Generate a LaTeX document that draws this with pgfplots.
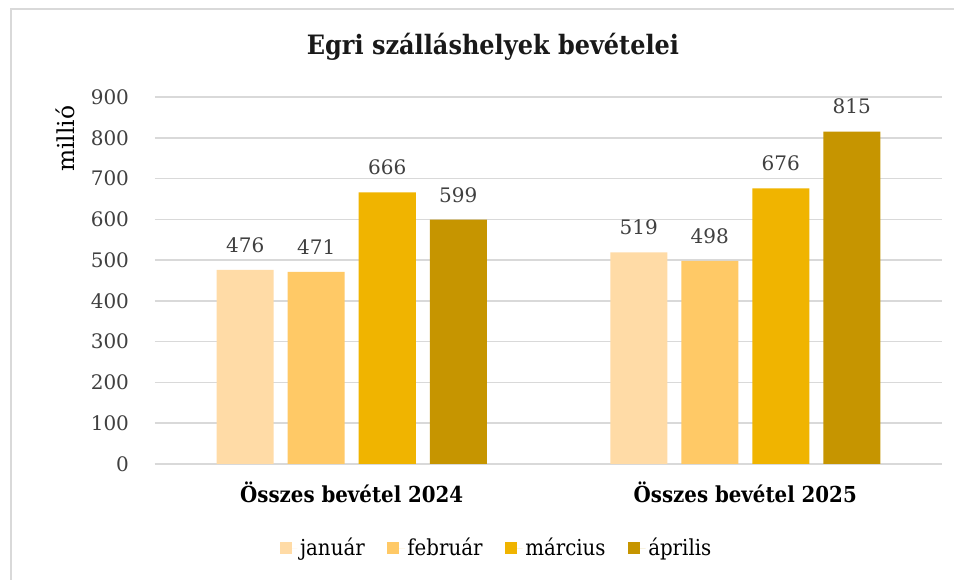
\documentclass[border=0pt]{standalone}
\usepackage{pgfplots}
\pgfplotsset{compat=1.18}
\usepackage{fontspec}
\setmainfont{DejaVu Serif}
\newfontfamily\condfont{DejaVu Serif Condensed}
\definecolor{cjan}{HTML}{FFDBA6}
\definecolor{cfeb}{HTML}{FFC966}
\definecolor{cmar}{HTML}{F0B400}
\definecolor{capr}{HTML}{C69500}
\definecolor{gridc}{HTML}{D9D9D9}
\definecolor{txt}{HTML}{404040}
\begin{document}
\begin{tikzpicture}
\path[use as bounding box] (-116.25pt,-87pt) rectangle (599.25pt,348pt);
\fill[white] (-116.25pt,-87pt) rectangle (599.25pt,348pt);
\draw[gridc, line width=1.6pt] (-108pt,-87pt) -- (-108pt,341.25pt) -- (599.25pt,341.25pt);
\begin{axis}[
  scale only axis,
  width=590.25pt, height=275.25pt,
  ybar=10.5pt, bar width=42.75pt,
  xmin=-0.5, xmax=1.5, ymin=0, ymax=900,
  xtick=data,
  xticklabels={Összes bevétel 2024, Összes bevétel 2025},
  ytick={0,100,...,900},
  axis lines*=left,
  x axis line style={gridc, line width=1.2pt, -},
  y axis line style={draw=none},
  ymajorgrids, grid style={gridc, line width=1.2pt},
  major tick length=0pt,
  /pgf/number format/assume math mode=true,
  yticklabel style={font=\fontsize{15pt}{17pt}\selectfont, text=txt, xshift=-16pt},
  xticklabel style={font=\condfont\bfseries\fontsize{16.5pt}{18pt}\selectfont, text=black, yshift=-10pt},
  nodes near coords,
  every node near coord/.append style={font=\fontsize{15pt}{17pt}\selectfont, text=txt, yshift=9.5pt},
  legend style={at={(0.4346,-0.229)}, anchor=center, draw=none, legend columns=-1,
    font=\condfont\fontsize{16.5pt}{18pt}\selectfont,
    /tikz/every even column/.append style={column sep=15pt}},
  legend image code/.code={\fill[#1] (0pt,-4.5pt) rectangle (9pt,4.5pt); \path (0pt,0pt) -- (13pt,0pt);},
]
\addplot[fill=cjan, draw=none] coordinates {(0,476) (1,519)};
\addplot[fill=cfeb, draw=none] coordinates {(0,471) (1,498)};
\addplot[fill=cmar, draw=none] coordinates {(0,666) (1,676)};
\addplot[fill=capr, draw=none] coordinates {(0,599) (1,815)};
\legend{január, február, március, április}
\end{axis}
\node[font=\condfont\bfseries\fontsize{20pt}{24pt}\selectfont, text=black!90] at (253.5pt,312.75pt) {Egri szálláshelyek bevételei};
\node[rotate=90, font=\fontsize{17.5pt}{20pt}\selectfont, text=black] at (-67.5pt,244pt) {millió};
\end{tikzpicture}
\end{document}
